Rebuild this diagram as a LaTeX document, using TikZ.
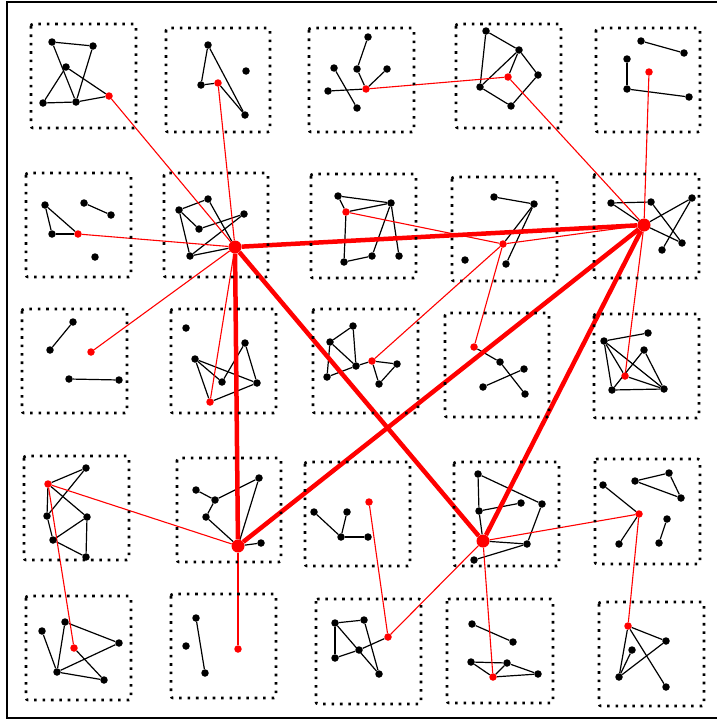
\documentclass[tikz,border=0pt]{standalone}
\usetikzlibrary{backgrounds}

\begin{document}
\begin{tikzpicture}[x=1pt, y=-1pt,
    dot/.style={circle, fill=black, inner sep=0pt, minimum size=7.5pt},
    rdot/.style={circle, fill=red, inner sep=0pt, minimum size=7.5pt},
    hub/.style={circle, fill=red, inner sep=0pt, minimum size=13pt},
    box/.style={line width=2.6pt, dash pattern=on 2.6pt off 5.8pt, rounded corners=2pt},
    bond/.style={line width=1.2pt},
    link/.style={red, line width=1.1pt},
    trunk/.style={red, line width=4.5pt}]
        \useasboundingbox (0,0) rectangle (716,720);
        \draw[line width=1.5pt] (7,2) rectangle (730,718);
        % dotted boxes, row by row
        \foreach \xa/\ya/\xb/\yb in {31/24/136/128, 166/28/270/132, 309/28/414/132, 456/24/561/128, 596/28/700/132,
                26/173/131/277, 164/173/268/277, 311/174/416/278, 452/177/557/281, 594/174/699/278,
                22/309/127/413, 171/309/276/413, 313/309/418/413, 445/313/549/417, 594/314/699/418,
                24/456/129/560, 177/458/281/562, 305/462/410/566, 454/462/559/566, 595/459/700/564,
                26/596/131/700, 171/594/276/698, 316/599/421/704, 447/599/553/703, 599/602/704/706}
            \draw[box] (\xa,\ya) rectangle (\xb,\yb);
        % black vertices
        \foreach \n/\x/\y in {A1a/52/42, A1b/93/46, A1c/66/67, A1d/43/103, A1e/76/102,
                B1a/208/45, B1b/246/71, B1c/201/85, B1d/245/115,
                C1a/368/37, C1b/334/68, C1c/357/69, C1d/387/69, C1e/328/91, C1f/357/108,
                D1a/486/31, D1b/519/50, D1c/538/75, D1d/480/87, D1e/511/106,
                E1a/641/41, E1b/684/53, E1c/627/59, E1d/627/89, E1e/689/97,
                A2a/45/205, A2b/84/203, A2c/111/215, A2d/52/234, A2e/95/257,
                B2a/208/199, B2b/179/210, B2c/244/214, B2d/199/229, B2e/190/256,
                C2a/338/196, C2b/391/203, C2c/344/262, C2d/372/256, C2e/399/256,
                D2a/494/197, D2b/534/204, D2c/465/260, D2d/506/264,
                E2a/611/203, E2b/651/202, E2c/692/198, E2d/662/250, E2e/682/243,
                A3a/73/322, A3b/50/350, A3c/69/379, A3d/119/380,
                B3a/186/328, B3b/245/343, B3c/195/359, B3d/222/382, B3e/257/383,
                C3a/353/326, C3b/330/342, C3c/356/366, C3d/327/377, C3e/397/364, C3f/379/384,
                D3a/500/362, D3b/524/369, D3c/483/387, D3d/525/394,
                E3a/604/341, E3b/648/333, E3c/644/350, E3d/612/390, E3e/664/389,
                A4a/86/468, A4b/47/516, A4c/87/517, A4d/53/540, A4e/86/557,
                B4a/259/478, B4b/196/490, B4c/215/500, B4d/206/517, B4e/261/543,
                C4a/314/512, C4b/347/512, C4c/341/537, C4d/368/537,
                D4a/478/474, D4b/542/504, D4c/479/511, D4d/521/503, D4e/527/544, D4f/474/560,
                E4a/603/485, E4b/635/481, E4c/669/473, E4d/681/498, E4e/667/519, E4f/619/544, E4g/659/543,
                A5a/42/631, A5b/65/622, A5c/119/643, A5d/57/672, A5e/104/680,
                B5a/196/618, B5b/186/646, B5c/205/673,
                C5a/335/623, C5b/364/620, C5c/359/650, C5d/335/658, C5e/379/674,
                D5a/472/624, D5b/513/642, D5c/471/662, D5d/507/663, D5e/538/674,
                E5a/666/641, E5b/632/650, E5c/619/677, E5d/666/687}
            \node[dot] (\n) at (\x,\y) {};
        % red representatives
        \foreach \n/\x/\y in {A1r/109/96, B1r/218/83, C1r/366/89, D1r/508/77, E1r/649/72,
                A2r/78/234, C2r/346/212, D2r/503/244,
                A3r/91/352, B3r/210/402, C3r/372/361, D3r/474/347, E3r/625/376,
                A4r/48/484, C4r/369/502, E4r/639/514,
                A5r/74/648, B5r/238/649, C5r/388/637, D5r/493/677, E5r/628/626}
            \node[rdot] (\n) at (\x,\y) {};
        \foreach \n/\x/\y in {B2H/235/247, E2H/644/225, B4H/238/546, D4H/483/541}
            \node[hub] (\n) at (\x,\y) {};
        \begin{pgfonlayer}{background}
        % edges inside the boxes
        \foreach \u/\v in {A1a/A1b, A1a/A1e, A1b/A1e, A1c/A1d, A1c/A1r, A1d/A1e, A1e/A1r,
                B1a/B1c, B1a/B1d, B1c/B1r, B1r/B1d,
                C1a/C1c, C1c/C1r, C1d/C1r, C1e/C1r, C1b/C1f,
                D1a/D1b, D1a/D1d, D1b/D1c, D1b/D1r, D1b/D1d, D1c/D1e, D1d/D1e,
                E1a/E1b, E1c/E1d, E1d/E1e,
                A2a/A2d, A2a/A2r, A2d/A2r, A2b/A2c,
                B2a/B2b, B2b/B2d, B2d/B2c, B2b/B2e, B2c/B2e, B2e/B2H, B2a/B2H,
                C2a/C2b, C2a/C2r, C2r/C2b, C2r/C2c, C2c/C2d, C2d/C2b, C2b/C2e,
                D2a/D2b, D2b/D2r, D2b/D2d,
                E2a/E2b, E2a/E2H, E2H/E2e, E2b/E2e, E2H/E2c, E2c/E2d,
                A3a/A3b, A3c/A3d,
                B3c/B3d, B3d/B3b, B3b/B3e, B3c/B3e, B3c/B3r, B3r/B3e,
                C3a/C3b, C3a/C3c, C3b/C3c, C3b/C3d, C3d/C3c, C3c/C3r, C3r/C3e, C3r/C3f, C3e/C3f,
                D3r/D3a, D3a/D3d, D3c/D3b,
                E3a/E3b, E3a/E3r, E3a/E3d, E3a/E3e, E3c/E3d, E3c/E3e, E3d/E3e, E3r/E3e,
                A4r/A4a, A4a/A4b, A4r/A4b, A4r/A4c, A4b/A4d, A4d/A4c, A4c/A4e, A4d/A4e,
                B4b/B4c, B4c/B4a, B4c/B4d, B4d/B4H, B4a/B4H, B4H/B4e,
                C4a/C4c, C4b/C4c, C4c/C4d,
                D4a/D4c, D4a/D4b, D4c/D4d, D4c/D4H, D4b/D4e, D4H/D4e, D4e/D4f,
                E4a/E4r, E4b/E4c, E4c/E4d, E4b/E4d, E4r/E4f, E4e/E4g,
                A5a/A5d, A5b/A5d, A5b/A5c, A5c/A5d, A5d/A5e, A5r/A5e,
                B5a/B5c,
                C5a/C5b, C5a/C5d, C5a/C5e, C5b/C5e, C5d/C5c, C5c/C5r,
                D5a/D5b, D5c/D5d, D5c/D5r, D5r/D5d, D5d/D5e, D5r/D5e,
                E5r/E5a, E5r/E5c, E5r/E5d, E5b/E5c, E5c/E5a}
            \draw[bond] (\u) -- (\v);
        % red links between boxes
        \foreach \u/\v in {A1r/B2H, B1r/B2H, A2r/B2H, A3r/B2H, B3r/B2H,
                C1r/D1r, D1r/E2H, E1r/E2H,
                C2r/D2r, D2r/E2H, C3r/D2r, D3r/D2r, E3r/E2H,
                A4r/B4H, A4r/A5r, B4H/B5r,
                C4r/C5r, C5r/D4H, D4H/D5r, D4H/E4r, E4r/E5r}
            \draw[link] (\u) -- (\v);
        % hub connections
        \foreach \u/\v in {B2H/E2H, B2H/B4H, B2H/D4H, E2H/B4H, E2H/D4H}
            \draw[trunk] (\u) -- (\v);
        \end{pgfonlayer}
\end{tikzpicture}
\end{document}
